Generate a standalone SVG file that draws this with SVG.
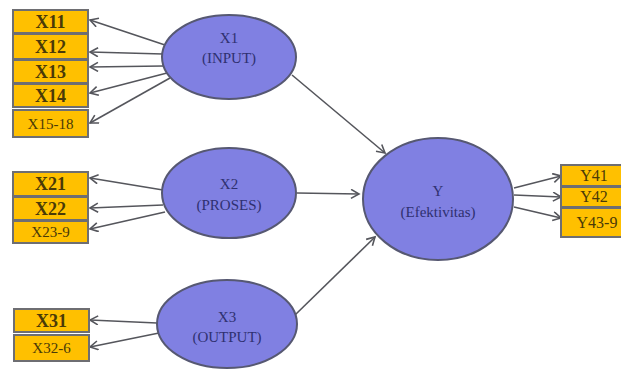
<svg xmlns="http://www.w3.org/2000/svg" width="621" height="370" viewBox="0 0 621 370">
<style>
.box{fill:#FFC000;stroke:#6e6e72;stroke-width:2}
.ell{fill:#8080E2;stroke:#565872;stroke-width:2}
text{font-family:'Liberation Serif','Times New Roman','DejaVu Serif',serif;text-anchor:middle}
.bl{font-size:18px;font-weight:bold;fill:#4a3a08}
.sl{font-size:15px;fill:#4a3a08}
.yl{font-size:16px;fill:#4a3a08}
.el{font-size:15px;fill:#2f3070}
.cn{stroke:#55565c;stroke-width:1.6;fill:none;marker-end:url(#ah)}
</style>
<defs>
<marker id="ah" markerUnits="userSpaceOnUse" markerWidth="12" markerHeight="12" refX="9" refY="5" orient="auto">
<path d="M1,0.5 L9,5 L1,9.5" fill="none" stroke="#55565c" stroke-width="1.6"/>
</marker>
</defs>
<rect width="621" height="370" fill="#ffffff"/>
<g id="connectors">
<line class="cn" x1="165" y1="45" x2="90" y2="20"/>
<line class="cn" x1="163" y1="54" x2="90" y2="52"/>
<line class="cn" x1="163" y1="66" x2="90" y2="67"/>
<line class="cn" x1="167" y1="73" x2="90" y2="93"/>
<line class="cn" x1="170" y1="78" x2="90" y2="123"/>
<line class="cn" x1="163" y1="190" x2="90" y2="178"/>
<line class="cn" x1="163" y1="205" x2="90" y2="208"/>
<line class="cn" x1="165" y1="212" x2="90" y2="229"/>
<line class="cn" x1="157" y1="323" x2="90" y2="320"/>
<line class="cn" x1="159" y1="333" x2="90" y2="347"/>
<line class="cn" x1="292" y1="75" x2="385" y2="153"/>
<line class="cn" x1="297" y1="193" x2="359" y2="194"/>
<line class="cn" x1="295" y1="315" x2="375" y2="237"/>
<line class="cn" x1="514" y1="188" x2="561" y2="176"/>
<line class="cn" x1="514" y1="195" x2="561" y2="197"/>
<line class="cn" x1="514" y1="207" x2="561" y2="218"/>
</g>
<g id="X11"><rect class="box" x="13" y="10" width="75" height="23"/><text class="bl" x="50.5" y="28">X11</text></g>
<g id="X12"><rect class="box" x="13" y="34" width="75" height="25"/><text class="bl" x="50.5" y="53">X12</text></g>
<g id="X13"><rect class="box" x="13" y="60" width="75" height="23"/><text class="bl" x="50.5" y="78">X13</text></g>
<g id="X14"><rect class="box" x="13" y="84" width="75" height="23"/><text class="bl" x="50.5" y="102">X14</text></g>
<g id="X15-18"><rect class="box" x="13" y="110" width="75" height="27"/><text class="sl" x="50.5" y="129">X15-18</text></g>
<g id="X21"><rect class="box" x="13" y="172" width="75" height="24"/><text class="bl" x="50.5" y="190">X21</text></g>
<g id="X22"><rect class="box" x="13" y="197" width="75" height="23"/><text class="bl" x="50.5" y="215">X22</text></g>
<g id="X23-9"><rect class="box" x="13" y="221" width="75" height="22"/><text class="sl" x="50.5" y="237">X23-9</text></g>
<g id="X31"><rect class="box" x="14" y="309" width="75" height="23"/><text class="bl" x="51.5" y="327">X31</text></g>
<g id="X32-6"><rect class="box" x="14" y="335" width="75" height="26"/><text class="sl" x="51.5" y="353">X32-6</text></g>
<g id="Y41"><rect class="box" x="561" y="165" width="62" height="21"/><text class="yl" x="594" y="181">Y41</text></g>
<g id="Y42"><rect class="box" x="561" y="187" width="62" height="20"/><text class="yl" x="594" y="202">Y42</text></g>
<g id="Y43-9"><rect class="box" x="561" y="208" width="62" height="29"/><text class="yl" x="597" y="228">Y43-9</text></g>
<g id="X1"><ellipse class="ell" cx="229" cy="57" rx="67" ry="42"/><text class="el" x="229" y="43">X1</text><text class="el" x="229" y="63">(INPUT)</text></g>
<g id="X2"><ellipse class="ell" cx="229" cy="193" rx="67" ry="45"/><text class="el" x="229" y="189">X2</text><text class="el" x="229" y="210">(PROSES)</text></g>
<g id="X3"><ellipse class="ell" cx="227" cy="324" rx="70" ry="44"/><text class="el" x="227" y="322">X3</text><text class="el" x="227" y="342">(OUTPUT)</text></g>
<g id="Y"><ellipse class="ell" cx="438" cy="199" rx="75" ry="61"/><text class="el" x="438" y="196">Y</text><text class="el" x="438" y="217">(Efektivitas)</text></g>
</svg>
